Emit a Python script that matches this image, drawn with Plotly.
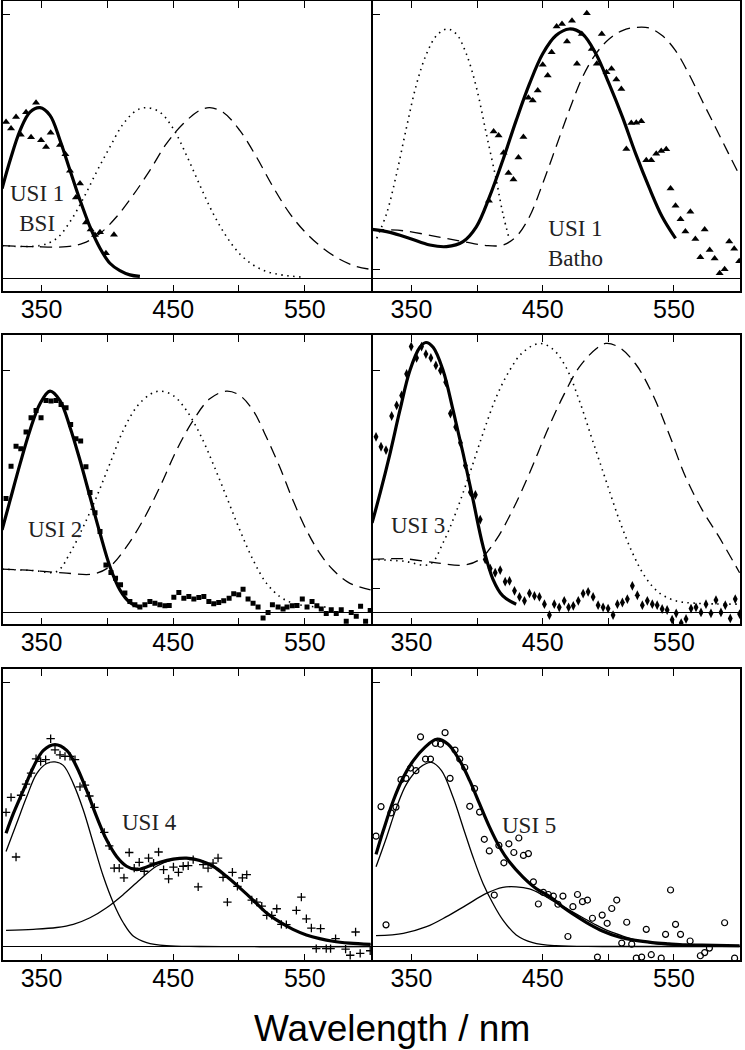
import plotly.graph_objects as go

# ---- panel 1 : USI 1 BSI ----
p1_fit_x = [320, 326.1, 333.7, 341.2, 348.8, 356.4, 364.0, 371.6, 379.2, 386.8, 394.4, 401.9, 409.5, 417.1, 424.7]
p1_fit_y = [0.342, 0.449, 0.562, 0.631, 0.648, 0.619, 0.525, 0.411, 0.298, 0.197, 0.116, 0.059, 0.031, 0.015, 0.009]
p1_dot_x = [320, 348.8, 361.5, 371.6, 381.7, 391.8, 401.9, 412.1, 422.2, 429.8, 439.9, 450.0, 460.1, 470.2,
            480.3, 490.5, 500.6, 510.7, 520.8, 533.5, 549.9]
p1_dot_y = [0.126, 0.126, 0.153, 0.216, 0.304, 0.405, 0.499, 0.587, 0.638, 0.648, 0.631, 0.569, 0.468, 0.355,
            0.248, 0.160, 0.094, 0.053, 0.028, 0.014, 0.006]
p1_dash_x = [320, 343.8, 369.1, 381.7, 394.4, 407.0, 419.6, 432.3, 444.9, 457.6, 470.2, 477.8, 487.9, 500.6,
             513.2, 525.9, 538.5, 551.2, 563.8, 576.5, 589.1, 600]
p1_dash_y = [0.126, 0.122, 0.122, 0.135, 0.172, 0.235, 0.317, 0.411, 0.512, 0.587, 0.638, 0.648, 0.631, 0.562,
             0.462, 0.348, 0.248, 0.172, 0.116, 0.074, 0.047, 0.036]
p1_pts_x = [323.0, 326.8, 330.6, 334.2, 338.2, 342.0, 345.8, 349.6, 353.4, 356.9, 364.0, 368.1, 371.6, 376.1,
            379.2, 383.7, 387.3, 390.6, 394.4, 398.9, 405.0]
p1_pts_y = [0.594, 0.569, 0.613, 0.546, 0.631, 0.536, 0.667, 0.525, 0.499, 0.553, 0.507, 0.472, 0.409, 0.308,
            0.361, 0.213, 0.187, 0.166, 0.176, 0.097, 0.167]

# ---- panel 2 : USI 1 Batho ----
p2_fit_x = [320, 333.7, 348.8, 364.0, 376.7, 389.3, 399.4, 409.5, 419.6, 429.8, 439.9, 450.0, 460.1, 470.2,
            480.3, 490.5, 500.6, 510.7, 520.8, 530.9, 541.0, 551.2]
p2_fit_y = [0.187, 0.176, 0.153, 0.128, 0.122, 0.141, 0.197, 0.311, 0.449, 0.600, 0.738, 0.852, 0.921, 0.946,
            0.927, 0.852, 0.738, 0.613, 0.474, 0.348, 0.235, 0.153]
p2_dot_x = [323.5, 331.1, 338.7, 346.3, 353.9, 361.5, 369.1, 377.2, 384.2, 391.8, 399.4, 407.0, 414.6, 419.6, 424.7]
p2_dot_y = [0.153, 0.248, 0.399, 0.575, 0.738, 0.852, 0.921, 0.946, 0.927, 0.852, 0.726, 0.550, 0.374, 0.248, 0.147]
p2_dash_x = [320, 343.8, 369.1, 389.3, 407.0, 419.6, 429.8, 439.9, 450.0, 460.1, 470.2, 480.3, 490.5, 500.6,
             510.7, 520.8, 530.9, 541.0, 551.2, 561.3, 571.4, 581.5, 591.6, 600]
p2_dash_y = [0.187, 0.182, 0.160, 0.141, 0.126, 0.128, 0.160, 0.235, 0.361, 0.499, 0.638, 0.764, 0.852, 0.908,
             0.940, 0.952, 0.950, 0.921, 0.864, 0.776, 0.675, 0.575, 0.474, 0.392]
p2_pts_x = [409.0, 412.6, 416.4, 420.2, 423.9, 427.7, 431.5, 435.3, 439.1, 442.4, 446.2, 450.0, 453.8, 456.8,
            460.6, 464.7, 468.5, 472.3, 476.1, 479.8, 483.6, 487.4, 491.2, 495.0, 498.6, 502.4, 506.1, 509.9,
            513.7, 517.5, 521.3, 525.1, 528.9, 532.7, 536.5, 540.3, 544.1, 547.4, 551.2, 555.0, 558.7, 562.5,
            566.3, 570.1, 573.4, 577.2, 581.0, 584.8, 588.6, 592.1, 595.9, 599.7]
p2_pts_y = [0.296, 0.558, 0.543, 0.477, 0.401, 0.376, 0.459, 0.537, 0.686, 0.675, 0.713, 0.811, 0.770, 0.858,
            0.955, 0.965, 0.899, 0.977, 0.814, 0.927, 1.006, 0.870, 0.814, 0.927, 0.782, 0.795, 0.755, 0.719,
            0.492, 0.590, 0.591, 0.597, 0.449, 0.449, 0.474, 0.484, 0.491, 0.342, 0.277, 0.226, 0.179, 0.254,
            0.151, 0.082, 0.187, 0.109, 0.077, 0.021, 0.036, 0.141, 0.114, 0.067]

# ---- panel 3 : USI 2 ----
p3_fit_x = [320, 326.1, 333.7, 341.2, 348.8, 356.4, 364.0, 371.6, 379.2, 386.8, 394.4, 401.9, 409.5, 417.1, 424.7]
p3_fit_y = [0.341, 0.464, 0.615, 0.753, 0.863, 0.915, 0.876, 0.766, 0.629, 0.478, 0.327, 0.190, 0.093, 0.041, 0.022]
p3_dot_x = [320, 343.8, 361.5, 371.6, 381.7, 391.8, 401.9, 412.1, 422.2, 432.3, 439.9, 450.0, 460.1, 470.2,
            480.3, 490.5, 500.6, 510.7, 520.8, 530.9, 541.0, 553.7, 566.3]
p3_dot_y = [0.179, 0.173, 0.169, 0.245, 0.354, 0.478, 0.615, 0.753, 0.849, 0.901, 0.915, 0.897, 0.835, 0.739,
            0.615, 0.478, 0.341, 0.217, 0.121, 0.066, 0.038, 0.025, 0.022]
p3_dash_x = [320, 343.8, 369.1, 389.3, 401.9, 414.6, 427.2, 439.9, 452.5, 465.2, 477.8, 490.5, 500.6, 510.7,
             520.8, 530.9, 541.0, 551.2, 561.3, 571.4, 584.0, 600]
p3_dash_y = [0.179, 0.173, 0.162, 0.159, 0.190, 0.272, 0.382, 0.519, 0.670, 0.794, 0.883, 0.915, 0.897, 0.835,
             0.725, 0.602, 0.464, 0.341, 0.245, 0.176, 0.121, 0.093]
p3_pts_x = [323.0, 326.8, 330.6, 334.2, 338.2, 342.0, 345.8, 349.6, 353.4, 357.2, 361.0, 364.8, 368.6, 372.1,
            376.1, 379.7, 383.7, 386.8, 390.6, 394.4, 398.9, 402.7, 406.2, 410.0, 413.3, 417.1, 420.9, 424.7,
            428.5, 432.3, 436.1, 439.9, 443.7, 447.0, 450.5, 454.3, 458.1, 461.9, 465.7, 469.5, 473.3, 477.1,
            480.8, 484.6, 488.4, 492.5, 496.0, 499.8, 503.1, 506.9, 510.7, 514.5, 518.3, 522.1, 525.4, 529.7,
            533.5, 536.5, 540.5, 544.1, 548.1, 551.7, 555.5, 559.2, 562.5, 566.3, 570.1, 573.9, 577.7, 581.5,
            585.3, 589.1, 592.4, 596.2, 599.7]
p3_pts_y = [0.471, 0.604, 0.687, 0.677, 0.746, 0.805, 0.835, 0.805, 0.876, 0.874, 0.876, 0.860, 0.846, 0.777,
            0.718, 0.709, 0.602, 0.496, 0.412, 0.334, 0.196, 0.165, 0.141, 0.114, 0.080, 0.045, 0.032, 0.022,
            0.032, 0.045, 0.038, 0.032, 0.027, 0.029, 0.063, 0.082, 0.059, 0.066, 0.055, 0.062, 0.066, 0.045,
            0.036, 0.041, 0.048, 0.059, 0.077, 0.073, 0.096, 0.055, 0.038, 0.022, -0.023, 0.000, 0.032, 0.022,
            0.014, 0.022, 0.027, 0.029, 0.055, 0.022, 0.045, 0.027, 0.014, -0.005, 0.011, -0.005, 0.011, -0.037,
            0.000, -0.016, 0.025, -0.037, 0.008]

# ---- panel 4 : USI 3 ----
p4_fit_x = [320, 326.1, 333.7, 341.2, 348.8, 356.4, 361.0, 366.5, 374.1, 381.7, 389.3, 396.9, 404.5, 412.1,
            419.6, 429.8]
p4_fit_y = [0.370, 0.493, 0.658, 0.836, 1.000, 1.096, 1.116, 1.096, 1.000, 0.836, 0.658, 0.466, 0.274, 0.137,
            0.068, 0.034]
p4_dot_x = [320, 343.8, 364.0, 374.1, 384.2, 394.4, 404.5, 414.6, 424.7, 434.8, 447.5, 457.6, 467.7, 477.8,
            487.9, 498.0, 508.2, 518.3, 528.4, 538.5, 551.2, 566.3, 600]
p4_dot_y = [0.219, 0.212, 0.199, 0.288, 0.418, 0.575, 0.740, 0.890, 1.000, 1.075, 1.112, 1.089, 1.014, 0.877,
            0.712, 0.548, 0.384, 0.247, 0.144, 0.082, 0.048, 0.038, 0.034]
p4_dash_x = [320, 343.8, 369.1, 389.3, 401.9, 414.6, 427.2, 439.9, 452.5, 465.2, 477.8, 490.5, 498.0, 508.2,
             520.8, 533.5, 546.1, 558.7, 571.4, 584.0, 600]
p4_dash_y = [0.219, 0.222, 0.205, 0.195, 0.219, 0.301, 0.425, 0.575, 0.740, 0.890, 1.014, 1.089, 1.112, 1.096,
             1.027, 0.904, 0.740, 0.562, 0.425, 0.315, 0.164]
p4_pts_x = [323.0, 326.8, 330.6, 334.9, 338.7, 342.5, 346.3, 349.8, 353.9, 357.7, 361.0, 364.8, 368.6, 372.1,
            376.1, 379.7, 383.7, 387.3, 391.1, 394.9, 398.7, 402.4, 406.2, 410.0, 413.8, 417.6, 421.4, 424.7,
            428.5, 432.3, 436.1, 439.9, 443.7, 447.5, 451.3, 455.1, 458.8, 462.6, 466.4, 469.7, 473.3, 477.1,
            480.8, 484.6, 488.4, 492.2, 496.0, 499.8, 503.6, 506.9, 510.7, 514.5, 518.3, 522.1, 525.9, 529.7,
            533.5, 537.2, 541.0, 544.8, 548.6, 551.7, 555.5, 559.2, 563.0, 566.8, 570.6, 574.4, 578.2, 582.0,
            585.8, 589.1, 592.9, 596.7, 600.0]
p4_pts_y = [0.726, 0.685, 0.671, 0.812, 0.856, 0.897, 0.986, 1.099, 1.052, 1.099, 1.068, 1.052, 1.021, 1.000,
            0.952, 0.822, 0.767, 0.701, 0.607, 0.497, 0.486, 0.384, 0.219, 0.181, 0.164, 0.175, 0.127, 0.130,
            0.089, 0.064, 0.048, 0.079, 0.068, 0.064, 0.034, -0.011, 0.034, 0.021, 0.048, 0.021, 0.027, 0.048,
            0.078, 0.085, 0.064, 0.030, 0.021, 0.016, -0.011, 0.034, 0.041, 0.055, 0.110, 0.071, 0.030, 0.048,
            0.034, 0.030, 0.014, 0.010, -0.030, -0.004, -0.044, -0.027, 0.016, 0.021, 0.000, 0.034, -0.004, 0.051,
            0.000, 0.030, -0.025, 0.055, -0.007]

# ---- panel 5 : USI 4 ----
p5_sum_x = [323.0, 328.6, 336.2, 343.8, 351.4, 360.2, 369.1, 376.7, 384.2, 391.8, 399.4, 407.0, 414.6, 422.2,
            429.8, 439.9, 450.0, 460.1, 470.2, 480.3, 490.5, 500.6, 510.7, 520.8, 530.9, 541.0, 551.2, 561.3,
            571.4, 584.0, 600]
p5_sum_y = [0.429, 0.504, 0.592, 0.680, 0.743, 0.765, 0.743, 0.680, 0.592, 0.492, 0.404, 0.341, 0.304, 0.291,
            0.301, 0.319, 0.331, 0.335, 0.326, 0.304, 0.266, 0.222, 0.176, 0.128, 0.093, 0.065, 0.044, 0.030,
            0.020, 0.013, 0.008]
p5_g1_x = [323.0, 331.1, 338.7, 346.3, 353.9, 360.2, 366.5, 374.1, 381.7, 389.3, 396.9, 404.5, 412.1, 419.6,
           429.8, 444.9, 470.2, 600]
p5_g1_y = [0.360, 0.467, 0.567, 0.655, 0.693, 0.699, 0.686, 0.617, 0.517, 0.391, 0.266, 0.166, 0.090, 0.040,
           0.015, 0.003, 0.0, 0.0]
p5_g2_x = [323.0, 343.8, 361.5, 374.1, 386.8, 399.4, 412.1, 424.7, 437.3, 450.0, 460.1, 470.2, 480.3, 490.5,
           500.6, 510.7, 520.8, 530.9, 541.0, 551.2, 561.3, 571.4, 584.0, 600]
p5_g2_y = [0.061, 0.065, 0.072, 0.084, 0.109, 0.147, 0.197, 0.253, 0.304, 0.329, 0.335, 0.326, 0.304, 0.266,
           0.222, 0.176, 0.128, 0.093, 0.065, 0.044, 0.030, 0.020, 0.013, 0.008]
p5_pts_x = [323.0, 326.8, 330.6, 334.4, 338.2, 342.0, 345.8, 349.3, 353.1, 356.9, 360.2, 364.0, 367.8, 371.6,
            375.4, 379.2, 383.0, 386.3, 390.1, 397.6, 401.4, 405.2, 409.0, 412.6, 416.6, 420.4, 424.2, 428.0,
            431.3, 435.1, 438.9, 442.7, 446.5, 450.2, 454.0, 457.6, 461.4, 465.2, 469.0, 472.8, 476.5, 480.3,
            484.1, 487.9, 491.2, 495.0, 498.8, 502.6, 505.9, 509.7, 513.5, 517.3, 521.1, 524.9, 528.7, 532.2,
            536.0, 543.6, 547.4, 551.2, 555.0, 558.7, 562.0, 566.3, 569.6, 573.4, 581.0, 584.5, 588.6, 592.1,
            599.7]
p5_pts_y = [0.508, 0.565, 0.339, 0.573, 0.615, 0.657, 0.711, 0.701, 0.708, 0.787, 0.745, 0.726, 0.720, 0.720,
            0.708, 0.605, 0.611, 0.570, 0.527, 0.432, 0.381, 0.297, 0.297, 0.260, 0.356, 0.297, 0.319, 0.285,
            0.335, 0.316, 0.358, 0.291, 0.256, 0.301, 0.281, 0.304, 0.306, 0.329, 0.226, 0.310, 0.297, 0.316,
            0.335, 0.262, 0.168, 0.281, 0.228, 0.260, 0.272, 0.176, 0.168, 0.153, 0.118, 0.118, 0.143, 0.084,
            0.083, 0.137, 0.187, 0.105, 0.070, -0.008, 0.068, -0.008, -0.008, 0.030, -0.010, -0.033, 0.055, -0.026,
            -0.016]

# ---- panel 6 : USI 5 ----
p6_sum_x = [323.0, 328.6, 336.2, 343.8, 351.4, 360.2, 369.1, 377.9, 386.8, 394.4, 401.9, 409.5, 417.1, 424.7,
            434.8, 444.9, 455.1, 465.2, 475.3, 485.4, 495.5, 508.2, 520.8, 533.5, 546.1, 558.7, 571.4, 600]
p6_sum_y = [0.349, 0.440, 0.553, 0.641, 0.704, 0.754, 0.785, 0.766, 0.704, 0.628, 0.540, 0.452, 0.377, 0.320,
            0.264, 0.220, 0.190, 0.150, 0.116, 0.085, 0.059, 0.036, 0.023, 0.015, 0.010, 0.006, 0.005, 0.003]
p6_g1_x = [323.0, 331.1, 338.7, 346.3, 356.4, 365.3, 372.9, 381.7, 389.3, 396.9, 404.5, 412.1, 419.6, 429.8,
           442.4, 460.1, 495.5, 600]
p6_g1_y = [0.302, 0.415, 0.528, 0.616, 0.678, 0.697, 0.666, 0.565, 0.452, 0.339, 0.239, 0.163, 0.101, 0.044,
           0.015, 0.003, 0.0, 0.0]
p6_g2_x = [323.0, 343.8, 361.5, 376.7, 391.8, 407.0, 419.6, 429.8, 439.9, 450.0, 460.1, 470.2, 480.3, 490.5,
           500.6, 510.7, 520.8, 533.5, 546.1, 571.4, 600]
p6_g2_y = [0.041, 0.050, 0.075, 0.113, 0.157, 0.201, 0.224, 0.226, 0.218, 0.195, 0.166, 0.138, 0.110, 0.082,
           0.058, 0.040, 0.025, 0.013, 0.006, 0.003, 0.001]
p6_pts_x = [323.0, 326.8, 330.6, 334.4, 338.2, 342.0, 345.8, 349.3, 353.4, 356.9, 360.7, 364.5, 368.3, 372.1,
            375.6, 379.4, 383.2, 386.8, 390.6, 394.4, 398.1, 401.9, 405.5, 409.3, 413.1, 416.6, 420.4, 424.2,
            428.0, 431.8, 435.3, 439.1, 442.9, 446.7, 450.5, 454.3, 458.1, 461.6, 465.4, 469.2, 473.0, 476.5,
            480.3, 484.1, 487.9, 491.7, 495.3, 499.1, 502.6, 506.4, 510.2, 514.0, 517.8, 521.3, 525.4, 528.9,
            532.7, 540.3, 543.6, 547.4, 551.2, 555.0, 562.3, 570.1, 573.4, 577.0, 588.6, 596.2]
p6_pts_y = [0.418, 0.530, 0.082, 0.506, 0.528, 0.632, 0.637, 0.676, 0.666, 0.794, 0.710, 0.710, 0.769, 0.766,
            0.810, 0.637, 0.744, 0.710, 0.678, 0.531, 0.598, 0.509, 0.406, 0.362, 0.195, 0.383, 0.317, 0.389,
            0.356, 0.411, 0.345, 0.352, 0.245, 0.161, 0.205, 0.197, 0.191, 0.160, 0.191, 0.038, 0.151, 0.197,
            0.170, 0.176, 0.107, -0.040, 0.119, 0.088, 0.144, 0.176, 0.013, 0.092, 0.009, -0.044, -0.040, 0.065,
            -0.031, -0.044, 0.046, 0.214, 0.084, 0.046, 0.021, -0.035, -0.023, -0.006, 0.090, -0.044]

labels = ["USI 1<br>BSI", "USI 1<br>Batho", "USI 2", "USI 3", "USI 4", "USI 5"]
label_x = [346.3, 475.3, 360.2, 355.2, 432.3, 439.4]
label_y = [0.265, 0.135, 0.343, 0.359, 0.469, 0.459]

tick_vals = [350, 400, 450, 500, 550, 600]
tick_text = ["350", "", "450", "", "550", ""]

W, H = 745, 1050
LW = 1.5  # frame line width; plotly draws frame lines just outside the domain
col_px = [(2, 372), (372, 741)]
row_px = [(0.5, 292), (334, 625), (668, 961)]
row_yrange = [[-0.047, 1.051], [-0.049, 1.148], [-0.052, 1.052]]
ytick_sets = [[0, 1], [0, 0.036, 1], [0, 1], [0, 0.099, 1], [0, 1], [0, 1]]

marker_styles = [
    dict(symbol="triangle-up", size=7, color="black"),
    dict(symbol="triangle-up", size=7, color="black"),
    dict(symbol="square", size=5, color="black"),
    dict(symbol="diamond-tall", size=7, color="black"),
    dict(symbol="cross-thin-open", size=6, color="black", line=dict(width=1.3, color="black")),
    dict(symbol="circle-open", size=6, color="black", line=dict(width=1.2, color="black")),
]

fit_lines = [
    [(p1_dot_x, p1_dot_y, "dot"), (p1_dash_x, p1_dash_y, "dash"), (p1_fit_x, p1_fit_y, "thick")],
    [(p2_dot_x, p2_dot_y, "dot"), (p2_dash_x, p2_dash_y, "dash"), (p2_fit_x, p2_fit_y, "thick")],
    [(p3_dot_x, p3_dot_y, "dot"), (p3_dash_x, p3_dash_y, "dash"), (p3_fit_x, p3_fit_y, "thick")],
    [(p4_dot_x, p4_dot_y, "dot"), (p4_dash_x, p4_dash_y, "dash"), (p4_fit_x, p4_fit_y, "thick")],
    [(p5_g1_x, p5_g1_y, "thin"), (p5_g2_x, p5_g2_y, "thin"), (p5_sum_x, p5_sum_y, "thick")],
    [(p6_g1_x, p6_g1_y, "thin"), (p6_g2_x, p6_g2_y, "thin"), (p6_sum_x, p6_sum_y, "thick")],
]
points = [(p1_pts_x, p1_pts_y), (p2_pts_x, p2_pts_y), (p3_pts_x, p3_pts_y),
          (p4_pts_x, p4_pts_y), (p5_pts_x, p5_pts_y), (p6_pts_x, p6_pts_y)]

line_styles = {
    "thick": dict(color="black", width=3.2),
    "thin": dict(color="black", width=1.3),
    "dot": dict(color="black", width=1.6, dash="1.5px,4.5px"),
    "dash": dict(color="black", width=1.3, dash="12px,7px"),
}

fig = go.Figure()
layout = {}
annotations = []

for i in range(6):
    r, c = divmod(i, 2)
    n = "" if i == 0 else str(i + 1)
    xa, ya = "x" + n, "y" + n
    x0, x1 = col_px[c]
    t, b = row_px[r]
    x0, x1, t, b = x0 + LW / 2, x1 - LW / 2, t + LW / 2, b - LW / 2
    layout["xaxis" + n] = dict(
        domain=[x0 / W, x1 / W], range=[320.5, 600.5], anchor=ya,
        tickvals=tick_vals, ticktext=tick_text, ticks="inside", ticklen=7, tickwidth=1.3,
        tickcolor="black", showline=True, linewidth=LW, linecolor="black", mirror="ticks",
        showgrid=False, zeroline=False, ticklabelstandoff=-5,
        tickfont=dict(family="Liberation Sans, Arial, sans-serif", size=25, color="black"),
    )
    layout["yaxis" + n] = dict(
        domain=[1 - b / H, 1 - t / H], range=row_yrange[r], anchor=xa,
        tickvals=ytick_sets[i], ticks="inside", ticklen=7, tickwidth=1.3, tickcolor="black",
        showticklabels=False, showline=True, linewidth=LW, linecolor="black", mirror=True,
        showgrid=False, zeroline=True, zerolinecolor="black", zerolinewidth=1.2,
    )
    for lx, ly, style in fit_lines[i]:
        fig.add_trace(go.Scatter(x=lx, y=ly, mode="lines", line=dict(shape="spline", **line_styles[style]),
                                 xaxis=xa, yaxis=ya, showlegend=False, hoverinfo="skip"))
    px, py = points[i]
    fig.add_trace(go.Scatter(x=px, y=py, mode="markers", marker=marker_styles[i],
                             xaxis=xa, yaxis=ya, showlegend=False))
    annotations.append(dict(
        x=label_x[i], y=label_y[i], xref=xa, yref=ya, text=labels[i], showarrow=False,
        font=dict(family="Liberation Serif, Times New Roman, serif", size=23, color="#222222"),
        align="center",
    ))

annotations.append(dict(
    x=392 / W, y=1 - 1028 / H, xref="paper", yref="paper", text="Wavelength / nm", showarrow=False,
    xanchor="center", yanchor="middle",
    font=dict(family="Liberation Sans, Arial, sans-serif", size=37, color="black"),
))

fig.update_layout(
    width=W, height=H, margin=dict(l=0, r=0, t=0, b=0),
    paper_bgcolor="white", plot_bgcolor="white",
    annotations=annotations, **layout,
)

# the page body has a default 8px margin; drop it so the figure fills the window
fig.write_html("out.html", config={"displayModeBar": False},
               post_script="document.body.style.margin='0';")
